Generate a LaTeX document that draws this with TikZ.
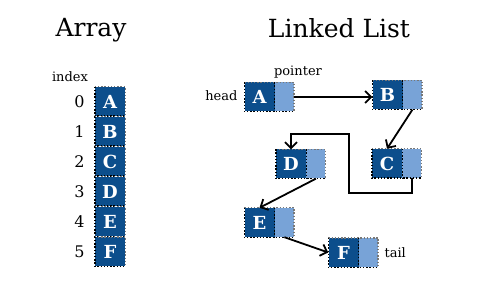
\documentclass[tikz,border=0pt]{standalone}
\usepackage{fontspec}
\setmainfont{DejaVu Serif}
\usetikzlibrary{arrows.meta}
\definecolor{dkblue}{RGB}{12,78,140}
\definecolor{ltblue}{RGB}{120,163,215}
\definecolor{dotgray}{RGB}{120,120,120}
\tikzset{
  dk/.style={fill=dkblue, minimum width=30pt, minimum height=29pt, inner sep=0pt,
    text=white, font=\bfseries\fontsize{18}{18}\selectfont},
  lt/.style={fill=ltblue, minimum width=19pt, minimum height=29pt, inner sep=0pt, anchor=west},
  gdot/.style={draw=dotgray, line width=1.4pt, dash pattern=on 1.4pt off 1.8pt},
  bdot/.style={draw=black, line width=1.4pt, dash pattern=on 1.4pt off 1.8pt},
  lbl/.style={font=\fontsize{13}{13}\selectfont},
  ptr/.style={draw=black, line width=1.8pt, -{Straight Barb[length=6pt,width=12pt]}},
  title/.style={font=\fontsize{25}{25}\selectfont}
}
\newcommand\arrcell[1]{%
  \draw[gdot] (#1.north west) -- (#1.north east) -- (#1.south east);
  \draw[bdot] (#1.north west) -- (#1.south west) -- (#1.south east);}
\newcommand\llcell[2]{%
  \draw[gdot] (#1.north west) -- (#2.north east) -- (#2.south east);
  \draw[bdot] (#1.north west) -- (#1.south west) -- (#2.south east);
  \draw[bdot] (#1.north east) -- (#1.south east);}
\begin{document}
\begin{tikzpicture}[x=1pt,y=-1pt]
\useasboundingbox (0,0) rectangle (485,286);
% titles
\node[title] (tarr) at (91,30) {Array};
\node[title] (tll) at (339,28) {Linked List};
% array
\node[lbl] (idx) at (70,77) {index};
\foreach \L [count=\i from 0] in {A,B,C,D,E,F} {
  \node[dk] (a\L) at (110,{101.5+30*\i}) {\L};
  \arrcell{a\L}
  \node[font=\fontsize{16}{16}\selectfont, anchor=east] (n\i) at (88,{101.5+30*\i}) {\i};
}
% linked list
\node[dk] (Ad) at (259.5,97) {A};   \node[lt] (Al) at (Ad.east) {};
\node[dk] (Bd) at (387.5,95) {B};   \node[lt] (Bl) at (Bd.east) {};
\node[dk] (Cd) at (387,163.5) {C};  \node[lt] (Cl) at (Cd.east) {};
\node[dk] (Dd) at (291,164) {D};    \node[lt] (Dl) at (Dd.east) {};
\node[dk] (Ed) at (259.5,222.5) {E};\node[lt] (El) at (Ed.east) {};
\node[dk] (Fd) at (343.5,252.5) {F};\node[lt] (Fl) at (Fd.east) {};
\llcell{Ad}{Al}\llcell{Bd}{Bl}\llcell{Cd}{Cl}\llcell{Dd}{Dl}\llcell{Ed}{El}\llcell{Fd}{Fl}
\node[font=\fontsize{13}{13}\selectfont, anchor=east] (head) at (241,96) {head};
\node[lbl] (pointer) at (298,72) {pointer};
\node[lbl, anchor=west] (tail) at (381,253) {tail};
% connectors
\coordinate (r1) at (349,193);
\coordinate (r2) at (349,134);
\draw[ptr] (Al.east) -- (Al.east -| Bd.west);
\draw[ptr] (Bl.south) -- (Cd.north);
\draw[ptr] (Cl.south) |- (r1) -- (r2) -| (Dd.north);
\draw[ptr] (Dl.south) -- (Ed.north);
\draw[ptr] (El.south) -- (Fd.west);
\end{tikzpicture}
\end{document}
